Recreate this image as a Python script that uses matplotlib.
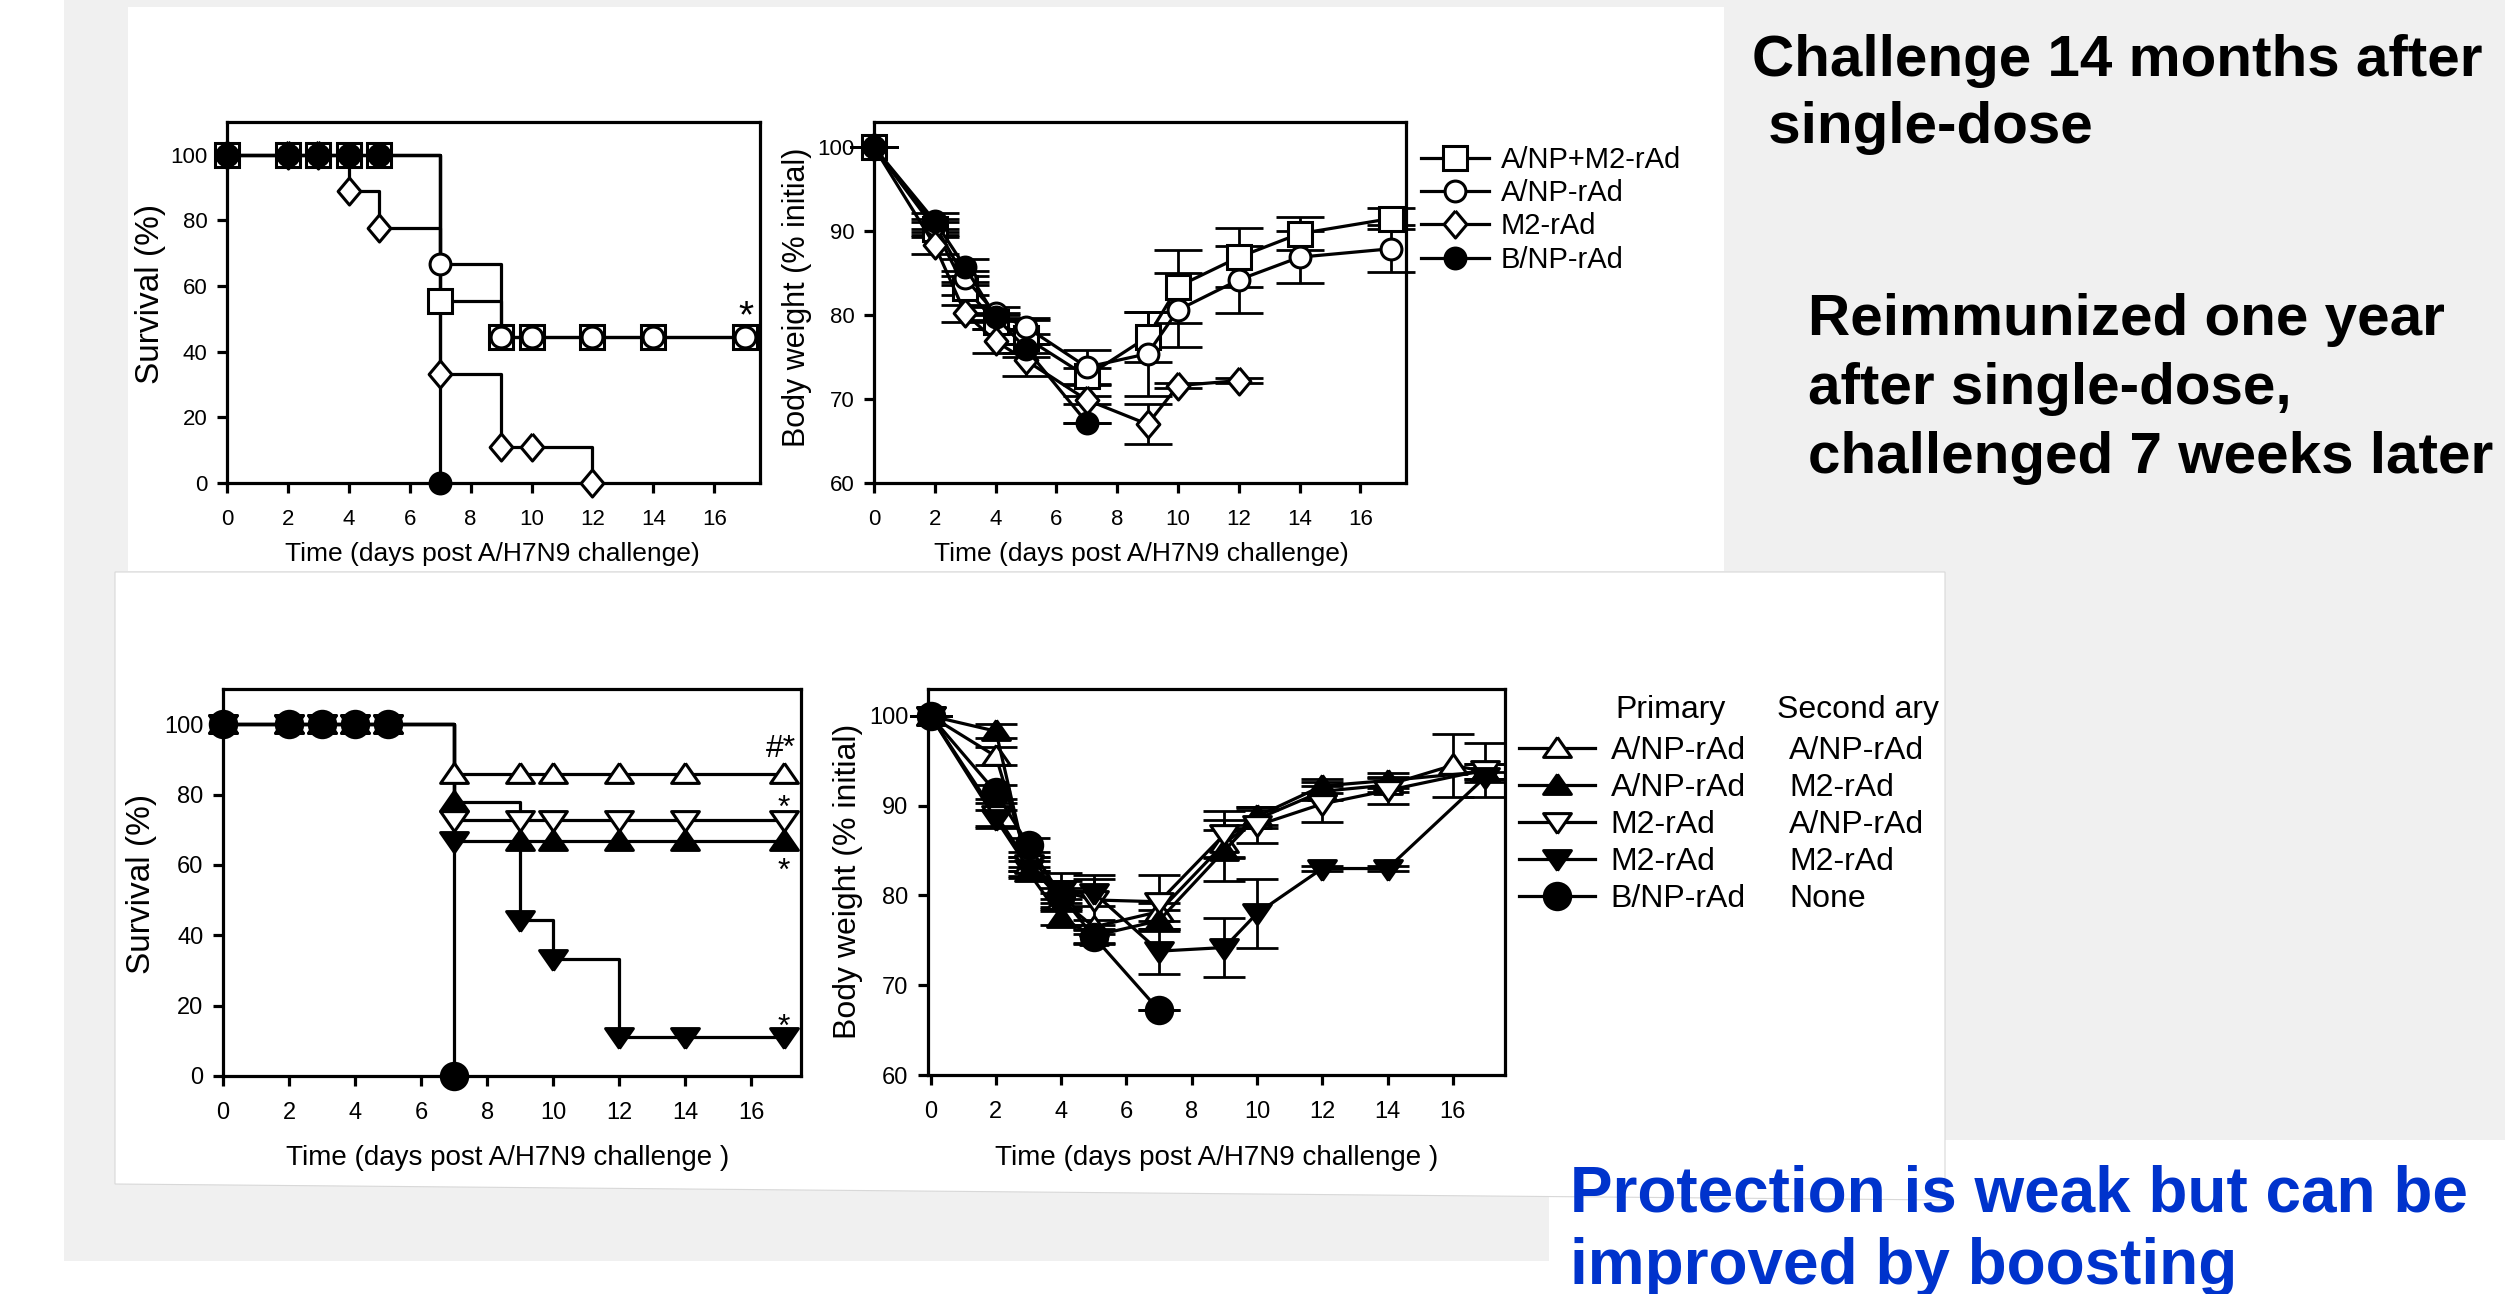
import matplotlib
matplotlib.use('Agg')
import matplotlib.pyplot as plt
from matplotlib.lines import Line2D
from matplotlib.patches import Polygon

W, H = 2505, 1294
DPI = 100
plt.rcParams['font.family'] = ['Liberation Sans', 'DejaVu Sans']

# ---------------- data ----------------
# Top: challenge 14 months after single dose
top_groups = ["A/NP+M2-rAd", "A/NP-rAd", "M2-rAd", "B/NP-rAd"]
days_ts = [0, 2, 3, 4, 5, 7, 9, 10, 12, 14, 17]
surv_ts_npm2 = [100, 100, 100, 100, 100, 55.6, 44.4, 44.4, 44.4, 44.4, 44.4]
surv_ts_np = [100, 100, 100, 100, 100, 66.7, 44.4, 44.4, 44.4, 44.4, 44.4]
days_ts_m2 = [0, 2, 3, 4, 5, 7, 9, 10, 12]
surv_ts_m2 = [100, 100, 100, 88.9, 77.8, 33.3, 11.1, 11.1, 0]
days_ts_b = [0, 2, 3, 4, 5, 7]
surv_ts_b = [100, 100, 100, 100, 100, 0]

days_tw = [0, 2, 3, 4, 5, 7, 9, 10, 12, 14, 17]
wt_tw_npm2 = [100, 90.3, 83.2, 79.2, 77.3, 72.7, 77.4, 83.4, 86.9, 89.7, 91.5]
err_tw_npm2 = [0, 0.8, 0.8, 0.8, 2.3, 1.0, 3.0, 4.3, 3.5, 2.0, 1.2]
wt_tw_np = [100, 90.7, 84.4, 80.2, 78.6, 73.8, 75.4, 80.6, 84.2, 86.9, 87.9]
err_tw_np = [0, 0.8, 0.8, 0.8, 0.8, 2.0, 5.0, 4.4, 4.0, 3.1, 2.8]
days_tw_m2 = [0, 2, 3, 4, 5, 7, 9, 10, 12]
wt_tw_m2 = [100, 88.3, 80.2, 76.9, 74.6, 69.9, 67.0, 71.6, 72.2]
err_tw_m2 = [0, 1.0, 1.0, 1.4, 1.9, 0.5, 2.4, 0.3, 0.3]
days_tw_b = [0, 2, 3, 4, 5, 7]
wt_tw_b = [100, 91.2, 85.7, 79.8, 76.0, 67.2]
err_tw_b = [0, 1.0, 1.0, 0.5, 0.5, 0]

# Bottom: reimmunized one year after single dose
primary = ["A/NP-rAd", "A/NP-rAd", "M2-rAd", "M2-rAd", "B/NP-rAd"]
secondary = ["A/NP-rAd", "M2-rAd", "A/NP-rAd", "M2-rAd", "None"]
days_bs = [0, 2, 3, 4, 5, 7, 9, 10, 12, 14, 17]
surv_bs_np_np = [100, 100, 100, 100, 100, 85.7, 85.7, 85.7, 85.7, 85.7, 85.7]
surv_bs_np_m2 = [100, 100, 100, 100, 100, 77.8, 66.7, 66.7, 66.7, 66.7, 66.7]
surv_bs_m2_np = [100, 100, 100, 100, 100, 72.7, 72.7, 72.7, 72.7, 72.7, 72.7]
surv_bs_m2_m2 = [100, 100, 100, 100, 100, 66.7, 44.4, 33.3, 11.1, 11.1, 11.1]
days_bs_b = [0, 2, 3, 4, 5, 7]
surv_bs_b = [100, 100, 100, 100, 100, 0]

days_bw_np_np = [0, 2, 3, 4, 5, 7, 9, 10, 12, 14, 16, 17]
wt_bw_np_np = [100, 95.5, 83.5, 79.5, 76.5, 78.2, 85.8, 88.5, 91.6, 92.3, 94.5, 93.8]
err_bw_np_np = [0, 1.0, 0.8, 0.8, 0.8, 1.0, 1.5, 1.0, 1.0, 0.8, 3.5, 0.8]
days_bw = [0, 2, 3, 4, 5, 7, 9, 10, 12, 14, 17]
wt_bw_np_m2 = [100, 98.3, 82.6, 77.5, 75.5, 77.2, 85.0, 88.8, 92.2, 92.8, 93.8]
err_bw_np_m2 = [0, 0.8, 0.6, 0.8, 0.8, 1.2, 3.4, 1.0, 0.8, 0.8, 0.8]
wt_bw_m2_np = [100, 89.0, 83.5, 80.5, 79.5, 79.3, 86.8, 87.8, 90.2, 91.7, 94.0]
err_bw_m2_np = [0, 1.3, 0.8, 2.0, 2.8, 3.0, 2.6, 2.0, 2.0, 1.5, 3.0]
wt_bw_m2_m2 = [100, 88.5, 83.0, 80.6, 80.3, 73.8, 74.2, 78.0, 83.0, 83.0, 93.2]
err_bw_m2_m2 = [0, 1.0, 0.8, 1.0, 1.5, 2.5, 3.3, 3.8, 0.3, 0.3, 0.6]
days_bw_b = [0, 2, 3, 4, 5, 7]
wt_bw_b = [100, 91.5, 85.6, 80.0, 75.4, 67.2]
err_bw_b = [0, 0.8, 0.8, 0.8, 0.8, 0]

x_ticks = [0, 2, 4, 6, 8, 10, 12, 14, 16]
surv_ticks = [0, 20, 40, 60, 80, 100]
wt_ticks = [60, 70, 80, 90, 100]

# ---------------- style ----------------
LW = 2.3
MEW = 2.2
DIAMOND = [(0, 1), (0.84, 0), (0, -1), (-0.84, 0), (0, 1)]
TRI_UP = [(0, 1), (1.25, -0.8), (-1.25, -0.8), (0, 1)]
TRI_DN = [(0, -1), (1.25, 0.8), (-1.25, 0.8), (0, -1)]

top_styles = [dict(marker='s', mfc='white', ms=17),
              dict(marker='o', mfc='white', ms=15),
              dict(marker=DIAMOND, mfc='white', ms=19.5),
              dict(marker='o', mfc='black', ms=15)]
bot_styles = [dict(marker=TRI_UP, mfc='white', ms=20),
              dict(marker=TRI_UP, mfc='black', ms=20),
              dict(marker=TRI_DN, mfc='white', ms=20),
              dict(marker=TRI_DN, mfc='black', ms=20),
              dict(marker='o', mfc='black', ms=19)]

fig = plt.figure(figsize=(W / DPI, H / DPI), dpi=DPI)
fig.patch.set_facecolor('white')


def fp(x, y):
    return (x / W, 1 - y / H)


# background panels (behind the axes)
gray = Polygon([fp(64, 0), fp(W, 0), fp(W, 1140), fp(1549, 1140), fp(1549, 1261), fp(64, 1261)],
               closed=True, transform=fig.transFigure, facecolor='#f0f0f0', edgecolor='none', zorder=-3)
fig.patches.append(gray)
box_top = Polygon([fp(128, 7), fp(1724, 7), fp(1724, 571), fp(128, 571)], closed=True,
                  transform=fig.transFigure, facecolor='white', edgecolor='none', zorder=-2)
fig.patches.append(box_top)
box_bot = Polygon([fp(115, 572), fp(1945, 572), fp(1945, 1200), fp(115, 1184)], closed=True,
                  transform=fig.transFigure, facecolor='white', edgecolor='#d8d8d8', lw=0.8, zorder=-2)
fig.patches.append(box_bot)


def make_ax(x0, y0, x1, y1):
    ax = fig.add_axes([x0 / W, 1 - y1 / H, (x1 - x0) / W, (y1 - y0) / H])
    ax.set_facecolor('none')
    ax._px = (x0, y0, x1, y1)
    return ax


def style(ax, xlim, ylim, yticks, tsize):
    ax.set_xlim(*xlim)
    ax.set_ylim(*ylim)
    ax.set_xticks(x_ticks)
    ax.set_yticks(yticks)
    for s in ax.spines.values():
        s.set_linewidth(LW)
    ax.tick_params(direction='out', length=7, width=LW, labelsize=tsize, pad=7)
    ax.tick_params(axis='x', pad=12)


def labels(ax, xl, yl, xc, yc, fx, fy):
    x0, y0, x1, y1 = ax._px
    ax.set_xlabel(xl, fontsize=fx)
    ax.set_ylabel(yl, fontsize=fy)
    ax.xaxis.set_label_coords((xc[0] - x0) / (x1 - x0), (y1 - xc[1]) / (y1 - y0))
    ax.xaxis.label.set_va('center')
    ax.yaxis.set_label_coords((yc[0] - x0) / (x1 - x0), (y1 - yc[1]) / (y1 - y0))
    ax.yaxis.label.set_va('center')


def surv(ax, x, y, st):
    ax.plot(x, y, drawstyle='steps-post', color='k', lw=LW, clip_on=False, zorder=2)
    ax.plot(x, y, ls='none', mec='k', mew=MEW, clip_on=False, zorder=3, **st)


def weight(ax, x, y, e, st, cap):
    ax.errorbar(x, y, yerr=e, color='k', lw=LW, ls='none', elinewidth=2.0, capsize=cap,
                capthick=2.0, clip_on=False, zorder=1)
    ax.plot(x, y, color='k', lw=LW, mec='k', mew=MEW, clip_on=False, zorder=3, **st)


# ---- top left: survival ----
ax1 = make_ax(227, 122, 760, 483)
surv(ax1, days_ts, surv_ts_npm2, top_styles[0])
surv(ax1, days_ts, surv_ts_np, top_styles[1])
surv(ax1, days_ts_m2, surv_ts_m2, top_styles[2])
surv(ax1, days_ts_b, surv_ts_b, top_styles[3])
style(ax1, (0, 17.5), (0, 110), surv_ticks, 16)
labels(ax1, "Time (days post A/H7N9 challenge)", "Survival (%)", (492, 554), (150, 294), 19, 24)
ax1.text(17.03, 47.3, "*", fontsize=28, ha='center', va='baseline')

# ---- top right: body weight ----
ax2 = make_ax(874, 122, 1406, 483)
weight(ax2, days_tw, wt_tw_npm2, err_tw_npm2, top_styles[0], 17)
weight(ax2, days_tw, wt_tw_np, err_tw_np, top_styles[1], 17)
weight(ax2, days_tw_m2, wt_tw_m2, err_tw_m2, top_styles[2], 17)
weight(ax2, days_tw_b, wt_tw_b, err_tw_b, top_styles[3], 17)
style(ax2, (0, 17.5), (60, 103), wt_ticks, 16)
labels(ax2, "Time (days post A/H7N9 challenge)", "Body weight (% initial)", (1141, 554), (797, 297), 19, 22)

handles_top = [Line2D([], [], color='k', lw=LW, mec='k', mew=MEW, **st) for st in top_styles]
fs_tl = 21
leg1 = fig.legend(handles_top, top_groups, loc='upper left', bbox_to_anchor=fp(1421, 146),
                  bbox_transform=fig.transFigure, frameon=False, fontsize=fs_tl, borderpad=0,
                  borderaxespad=0, handlelength=2.33, handletextpad=0.41, labelspacing=0.18)

# ---- bottom left: survival ----
ax3 = make_ax(223, 689, 801, 1076)
surv(ax3, days_bs, surv_bs_np_np, bot_styles[0])
surv(ax3, days_bs, surv_bs_np_m2, bot_styles[1])
surv(ax3, days_bs, surv_bs_m2_np, bot_styles[2])
surv(ax3, days_bs, surv_bs_m2_m2, bot_styles[3])
surv(ax3, days_bs_b, surv_bs_b, bot_styles[4])
style(ax3, (0, 17.5), (0, 110), surv_ticks, 17)
labels(ax3, "Time (days post A/H7N9 challenge )", "Survival (%)", (508, 1158), (141, 884), 20, 24)
ax3.text(16.9, 90.8, "#*", fontsize=23, ha='center', va='baseline')
for yy in (73.6, 55.6, 11.3):
    ax3.text(16.97, yy, "*", fontsize=23, ha='center', va='baseline')

# ---- bottom right: body weight ----
ax4 = make_ax(928, 689, 1505, 1075)
weight(ax4, days_bw_np_np, wt_bw_np_np, err_bw_np_np, bot_styles[0], 15)
weight(ax4, days_bw, wt_bw_np_m2, err_bw_np_m2, bot_styles[1], 15)
weight(ax4, days_bw, wt_bw_m2_np, err_bw_m2_np, bot_styles[2], 15)
weight(ax4, days_bw, wt_bw_m2_m2, err_bw_m2_m2, bot_styles[3], 15)
weight(ax4, days_bw_b, wt_bw_b, err_bw_b, bot_styles[4], 15)
style(ax4, (-0.08, 17.6), (60, 103), wt_ticks, 17)
labels(ax4, "Time (days post A/H7N9 challenge )", "Body weight (% initial)", (1217, 1158), (848, 881), 20, 23)

handles_bot = [Line2D([], [], color='k', lw=LW, mec='k', mew=MEW, **st) for st in bot_styles]
fs_bl = 23
leg2 = fig.legend(handles_bot, primary, loc='upper left', bbox_to_anchor=fp(1519, 736),
                  bbox_transform=fig.transFigure, frameon=False, fontsize=fs_bl, borderpad=0,
                  borderaxespad=0, handlelength=2.37, handletextpad=0.5, labelspacing=0.22)
blank = [Line2D([], [], ls='none') for _ in secondary]
leg3 = fig.legend(blank, secondary, loc='upper left', bbox_to_anchor=fp(1789, 736),
                  bbox_transform=fig.transFigure, frameon=False, fontsize=fs_bl, borderpad=0,
                  borderaxespad=0, handlelength=0, handletextpad=0, labelspacing=0.22)
fig.text(*fp(1615, 710), "Primary", fontsize=fs_bl, ha='left', va='center')
fig.text(*fp(1777, 710), "Second ary", fontsize=fs_bl, ha='left', va='center')

# ---- slide texts ----
big = dict(fontsize=42, fontweight='bold', ha='left', va='center', color='black')
fig.text(*fp(1752, 61), "Challenge 14 months after", **big)
fig.text(*fp(1752, 128), " single-dose", **big)
fig.text(*fp(1808, 320), "Reimmunized one year", **big)
fig.text(*fp(1808, 389), "after single-dose,", **big)
fig.text(*fp(1808, 458), "challenged 7 weeks later", **big)
blue = dict(fontsize=46, fontweight='bold', ha='left', va='center', color='#0033cc')
fig.text(*fp(1570, 1194), "Protection is weak but can be", **blue)
fig.text(*fp(1570, 1267), "improved by boosting", **blue)

fig.savefig('out.png', dpi=DPI, facecolor='white')
